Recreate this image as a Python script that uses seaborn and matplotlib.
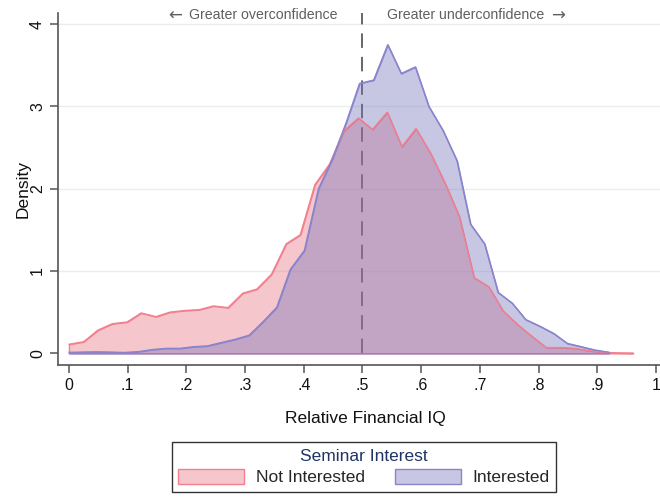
import numpy as np
import pandas as pd
import matplotlib
matplotlib.use("Agg")
import matplotlib.pyplot as plt
from matplotlib.patches import Patch
import seaborn as sns

# ---------------- data ----------------
groups = ["Not Interested", "Interested"]

x_not = [0.000, 0.025, 0.049, 0.074, 0.099, 0.123, 0.148, 0.172, 0.197, 0.222,
         0.246, 0.271, 0.296, 0.320, 0.345, 0.370, 0.394, 0.419, 0.444, 0.468,
         0.493, 0.517, 0.542, 0.567, 0.591, 0.616, 0.641, 0.665, 0.690, 0.715,
         0.739, 0.764, 0.788, 0.813, 0.838, 0.862, 0.887, 0.911, 0.936, 0.961]
d_not = [0.11, 0.14, 0.28, 0.36, 0.38, 0.49, 0.445, 0.50, 0.52, 0.53,
         0.575, 0.555, 0.73, 0.78, 0.96, 1.33, 1.44, 2.05, 2.30, 2.70,
         2.86, 2.72, 2.93, 2.51, 2.73, 2.43, 2.06, 1.66, 0.92, 0.81,
         0.52, 0.35, 0.21, 0.07, 0.07, 0.06, 0.03, 0.012, 0.005, 0.003]

x_int = [0.000, 0.024, 0.047, 0.071, 0.094, 0.118, 0.142, 0.165, 0.189, 0.212,
         0.236, 0.259, 0.283, 0.307, 0.330, 0.354, 0.377, 0.401, 0.425, 0.448,
         0.472, 0.495, 0.519, 0.543, 0.566, 0.590, 0.613, 0.637, 0.661, 0.684,
         0.708, 0.731, 0.755, 0.778, 0.802, 0.826, 0.849, 0.873, 0.896, 0.920]
d_int = [0.012, 0.015, 0.018, 0.015, 0.010, 0.020, 0.045, 0.06, 0.06, 0.08,
         0.09, 0.13, 0.17, 0.22, 0.38, 0.56, 1.02, 1.25, 2.00, 2.35,
         2.80, 3.28, 3.32, 3.75, 3.40, 3.48, 3.00, 2.71, 2.34, 1.57,
         1.33, 0.74, 0.61, 0.41, 0.33, 0.24, 0.12, 0.08, 0.04, 0.012]

x_ticks = [0, .1, .2, .3, .4, .5, .6, .7, .8, .9, 1]
x_ticklabels = ["0", ".1", ".2", ".3", ".4", ".5", ".6", ".7", ".8", ".9", "1"]
y_ticks = [0, 1, 2, 3, 4]
y_ticklabels = ["0", "1", "2", "3", "4"]

# ---------------- style ----------------
sns.set_theme(style="white")
plt.rcParams["font.family"] = ["Liberation Sans", "DejaVu Sans"]

fill_colors = {"Not Interested": (232/255, 92/255, 112/255, 0.35),
               "Interested": (117/255, 117/255, 187/255, 0.40)}
line_colors = {"Not Interested": "#f2808e", "Interested": "#8a84cc"}

df = pd.concat([
    pd.DataFrame({"x": x_not, "density": d_not, "group": groups[0]}),
    pd.DataFrame({"x": x_int, "density": d_int, "group": groups[1]}),
], ignore_index=True)

fig = plt.figure(figsize=(6.6, 4.97), dpi=100)
ax = fig.add_axes([0.0883, 0.2656, 0.9117, 0.7082])

ylo, yhi = -0.142, 4.135
ax.set_xlim(-0.0182, 1.0068)
ax.set_ylim(ylo, yhi)

# grid
for yv in y_ticks[1:]:
    ax.axhline(yv, color="#e8eeee", lw=1.0, zorder=0)

# reference line
ax.vlines(0.5, 0, yhi, colors="#5a5a5a", lw=1.3, linestyles=(0, (8, 5)), zorder=1)

# areas
for g in groups:
    sub = df[df["group"] == g]
    ax.fill_between(sub["x"], 0, sub["density"], facecolor=fill_colors[g],
                    edgecolor=line_colors[g], lw=1.0, zorder=2)

sns.lineplot(data=df, x="x", y="density", hue="group", palette=line_colors,
             estimator=None, sort=False, legend=False, lw=1.0, ax=ax, zorder=3)

# axes styling
for s in ["top", "right"]:
    ax.spines[s].set_visible(False)
for s in ["left", "bottom"]:
    ax.spines[s].set_color("#555555")
    ax.spines[s].set_linewidth(1.2)

ax.set_xticks(x_ticks)
ax.set_xticklabels(x_ticklabels)
ax.set_yticks(y_ticks)
ax.set_yticklabels(y_ticklabels, rotation=90, va="center")
ax.tick_params(axis="both", which="major", length=6, width=1.1, color="#555555",
               labelsize=11.5, labelcolor="#111111", pad=3.5, bottom=True, left=True)

ax.set_xlabel("Relative Financial IQ", fontsize=12.5, color="#111111")
ax.set_ylabel("Density", fontsize=12.5, color="#111111")
ax.xaxis.label.set_va("center")
ax.yaxis.label.set_va("center")
ax.xaxis.set_label_coords(0.51, -0.1534)
ax.yaxis.set_label_coords(-0.0587, 0.5)

# annotations
trans = matplotlib.transforms.blended_transform_factory(ax.transData, ax.transAxes)
ax.text(0.458, 0.993, "Greater overconfidence", transform=trans, ha="right",
        va="center", fontsize=10.2, color="#5f5f5f")
ax.text(0.1925, 0.993, "\u2190", transform=trans, ha="right", va="center",
        fontsize=12, color="#5f5f5f", family="DejaVu Sans")
ax.text(0.541, 0.993, "Greater underconfidence", transform=trans, ha="left",
        va="center", fontsize=10.2, color="#5f5f5f")
ax.text(0.821, 0.993, "\u2192", transform=trans, ha="left", va="center",
        fontsize=12, color="#5f5f5f", family="DejaVu Sans")

# legend
handles = [Patch(facecolor=fill_colors[g], edgecolor=line_colors[g], lw=1.0) for g in groups]
leg = fig.legend(handles, groups, ncol=2, title="Seminar Interest", loc="center",
                 bbox_to_anchor=(364/660, 1 - 467/497), frameon=True, fancybox=False,
                 edgecolor="black", fontsize=12.5, title_fontsize=12.5,
                 handlelength=3.8, handleheight=1.0, handletextpad=0.7,
                 columnspacing=1.7, borderpad=0.35, labelspacing=0.3)
leg.get_frame().set_linewidth(1.0)
leg.get_title().set_color("#1f3464")

fig.savefig("out.png", dpi=100)
